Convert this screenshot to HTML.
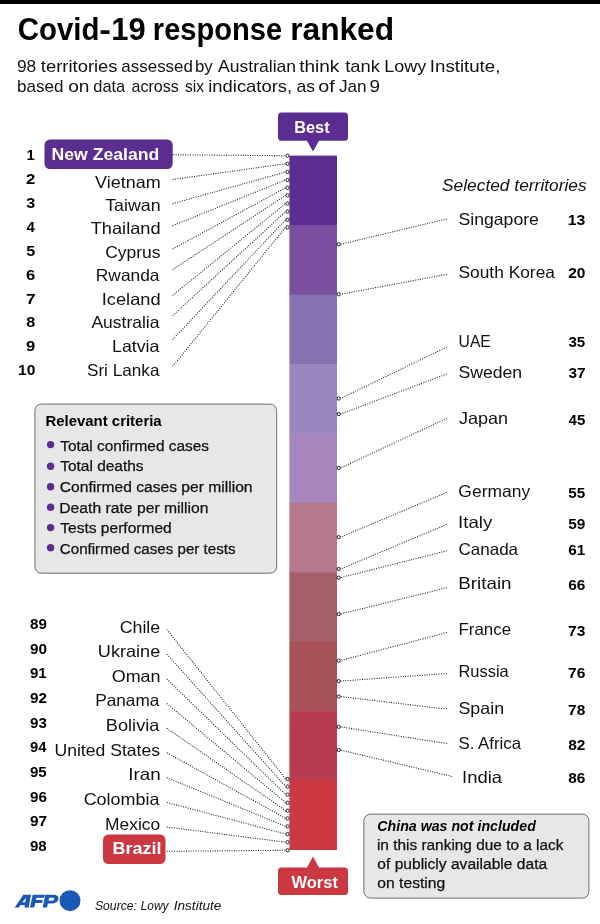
<!DOCTYPE html>
<html><head><meta charset="utf-8"><title>Covid-19 response ranked</title>
<style>
html,body{margin:0;padding:0;background:#fff;}
svg{display:block;font-family:"Liberation Sans", sans-serif;fill:#111;will-change:transform;}
.d{stroke:#1a1a1a;stroke-width:1.05;stroke-dasharray:1 1.4;fill:none;}
.c{fill:#fff;stroke:#1a1a1a;stroke-width:1;}
</style></head><body>
<svg width="600" height="924" viewBox="0 0 600 924">
<rect width="600" height="924" fill="#fff"/>
<rect x="0" y="0" width="600" height="4" fill="#000"/>
<text x="17.77" y="40.4" font-size="31.5" textLength="81.70" lengthAdjust="spacingAndGlyphs" font-weight="bold" fill="#000">Covid</text>
<text x="99.34" y="40.4" font-size="31.5" textLength="11.64" lengthAdjust="spacingAndGlyphs" font-weight="bold" fill="#000">-</text>
<text x="111.22" y="40.4" font-size="31.5" textLength="34.39" lengthAdjust="spacingAndGlyphs" font-weight="bold" fill="#000">19</text>
<text x="152.86" y="40.4" font-size="31.5" textLength="129.38" lengthAdjust="spacingAndGlyphs" font-weight="bold" fill="#000">response</text>
<text x="290.19" y="40.4" font-size="31.5" textLength="103.88" lengthAdjust="spacingAndGlyphs" font-weight="bold" fill="#000">ranked</text>
<text x="16.97" y="71.7" font-size="16.6" textLength="19.32" lengthAdjust="spacingAndGlyphs">98</text>
<text x="40.77" y="71.7" font-size="16.6" textLength="76.82" lengthAdjust="spacingAndGlyphs">territories</text>
<text x="121.33" y="71.7" font-size="16.6" textLength="71.62" lengthAdjust="spacingAndGlyphs">assessed</text>
<text x="195.00" y="71.7" font-size="16.6" textLength="17.77" lengthAdjust="spacingAndGlyphs">by</text>
<text x="218.05" y="71.7" font-size="16.6" textLength="78.03" lengthAdjust="spacingAndGlyphs">Australian</text>
<text x="299.16" y="71.7" font-size="16.6" textLength="40.24" lengthAdjust="spacingAndGlyphs">think</text>
<text x="345.27" y="71.7" font-size="16.6" textLength="34.73" lengthAdjust="spacingAndGlyphs">tank</text>
<text x="384.21" y="71.7" font-size="16.6" textLength="42.03" lengthAdjust="spacingAndGlyphs">Lowy</text>
<text x="429.87" y="71.7" font-size="16.6" textLength="70.51" lengthAdjust="spacingAndGlyphs">Institute,</text>
<text x="16.99" y="91.8" font-size="16.6" textLength="46.36" lengthAdjust="spacingAndGlyphs">based</text>
<text x="68.18" y="91.8" font-size="16.6" textLength="21.31" lengthAdjust="spacingAndGlyphs">on</text>
<text x="93.29" y="91.8" font-size="16.6" textLength="31.94" lengthAdjust="spacingAndGlyphs">data</text>
<text x="131.57" y="91.8" font-size="16.6" textLength="47.25" lengthAdjust="spacingAndGlyphs">across</text>
<text x="185.12" y="91.8" font-size="16.6" textLength="18.98" lengthAdjust="spacingAndGlyphs">six</text>
<text x="208.25" y="91.8" font-size="16.6" textLength="83.91" lengthAdjust="spacingAndGlyphs">indicators,</text>
<text x="296.50" y="91.8" font-size="16.6" textLength="18.58" lengthAdjust="spacingAndGlyphs">as</text>
<text x="318.26" y="91.8" font-size="16.6" textLength="16.47" lengthAdjust="spacingAndGlyphs">of</text>
<text x="338.99" y="91.8" font-size="16.6" textLength="27.67" lengthAdjust="spacingAndGlyphs">Jan</text>
<text x="369.40" y="91.8" font-size="16.6" textLength="10.53" lengthAdjust="spacingAndGlyphs">9</text>
<rect x="289.4" y="155.60" width="47.6" height="70.04" fill="#5b2d90"/>
<rect x="289.4" y="225.04" width="47.6" height="70.04" fill="#7a4f9f"/>
<rect x="289.4" y="294.48" width="47.6" height="70.04" fill="#8672b1"/>
<rect x="289.4" y="363.92" width="47.6" height="70.04" fill="#9a85c0"/>
<rect x="289.4" y="433.36" width="47.6" height="70.04" fill="#a886bd"/>
<rect x="289.4" y="502.80" width="47.6" height="70.04" fill="#b5798d"/>
<rect x="289.4" y="572.24" width="47.6" height="70.04" fill="#a65e68"/>
<rect x="289.4" y="641.68" width="47.6" height="70.04" fill="#a85156"/>
<rect x="289.4" y="711.12" width="47.6" height="70.04" fill="#b83b50"/>
<rect x="289.4" y="780.56" width="47.6" height="69.44" fill="#cc3842"/>
<path d="M281.5 112.5h63a3.5 3.5 0 0 1 3.5 3.5v21.3a3.5 3.5 0 0 1-3.5 3.5h-25.5l-6 10.6l-6-10.6h-25.5a3.5 3.5 0 0 1-3.5-3.5v-21.3a3.5 3.5 0 0 1 3.5-3.5z" fill="#5b2d90"/>
<text x="294.19" y="132.5" font-size="16.8" textLength="35.43" lengthAdjust="spacingAndGlyphs" font-weight="bold" fill="#fff">Best</text>
<path d="M281.5 895h63a3.5 3.5 0 0 0 3.5-3.5v-20.5a3.5 3.5 0 0 0-3.5-3.5h-25.5l-6-11l-6 11h-25.5a3.5 3.5 0 0 0-3.5 3.5v20.5a3.5 3.5 0 0 0 3.5 3.5z" fill="#cc3842"/>
<text x="291.45" y="887.5" font-size="16.8" textLength="46.47" lengthAdjust="spacingAndGlyphs" font-weight="bold" fill="#fff">Worst</text>
<rect x="44.5" y="139.6" width="128.2" height="29.5" rx="5.5" fill="#5b2d90"/>
<text x="26.43" y="160.0" font-size="15" textLength="8.21" lengthAdjust="spacingAndGlyphs" font-weight="bold" fill="#000">1</text>
<text x="51.50" y="159.6" font-size="15.8" textLength="107.80" lengthAdjust="spacingAndGlyphs" font-weight="bold" fill="#fff">New Zealand</text>
<line class="d" x1="173.2" y1="154.8" x2="285.6" y2="155.7"/>
<circle class="c" cx="287.5" cy="155.7" r="1.65"/>
<text x="26.11" y="183.9" font-size="15" textLength="9.29" lengthAdjust="spacingAndGlyphs" font-weight="bold" fill="#000">2</text>
<text x="95.01" y="187.5" font-size="16.5" textLength="65.62" lengthAdjust="spacingAndGlyphs">Vietnam</text>
<line class="d" x1="172.6" y1="179.5" x2="285.6" y2="163.8"/>
<circle class="c" cx="287.5" cy="163.8" r="1.65"/>
<text x="26.29" y="207.8" font-size="15" textLength="9.01" lengthAdjust="spacingAndGlyphs" font-weight="bold" fill="#000">3</text>
<text x="105.19" y="210.8" font-size="16.5" textLength="55.38" lengthAdjust="spacingAndGlyphs">Taiwan</text>
<line class="d" x1="172.6" y1="203.7" x2="285.6" y2="172.0"/>
<circle class="c" cx="287.5" cy="172.0" r="1.65"/>
<text x="26.42" y="231.7" font-size="15" textLength="8.38" lengthAdjust="spacingAndGlyphs" font-weight="bold" fill="#000">4</text>
<text x="90.69" y="234.2" font-size="16.5" textLength="69.92" lengthAdjust="spacingAndGlyphs">Thailand</text>
<line class="d" x1="172.6" y1="225.7" x2="285.6" y2="180.0"/>
<circle class="c" cx="287.5" cy="180.0" r="1.65"/>
<text x="26.16" y="255.6" font-size="15" textLength="9.01" lengthAdjust="spacingAndGlyphs" font-weight="bold" fill="#000">5</text>
<text x="105.18" y="257.8" font-size="16.5" textLength="55.39" lengthAdjust="spacingAndGlyphs">Cyprus</text>
<line class="d" x1="172.6" y1="249.0" x2="285.6" y2="187.8"/>
<circle class="c" cx="287.5" cy="187.8" r="1.65"/>
<text x="26.07" y="279.6" font-size="15" textLength="9.24" lengthAdjust="spacingAndGlyphs" font-weight="bold" fill="#000">6</text>
<text x="95.86" y="281.3" font-size="16.5" textLength="63.57" lengthAdjust="spacingAndGlyphs">Rwanda</text>
<line class="d" x1="172.6" y1="269.6" x2="285.6" y2="195.4"/>
<circle class="c" cx="287.5" cy="195.4" r="1.65"/>
<text x="25.92" y="303.5" font-size="15" textLength="9.59" lengthAdjust="spacingAndGlyphs" font-weight="bold" fill="#000">7</text>
<text x="101.81" y="304.7" font-size="16.5" textLength="58.82" lengthAdjust="spacingAndGlyphs">Iceland</text>
<line class="d" x1="172.6" y1="295.4" x2="285.6" y2="203.5"/>
<circle class="c" cx="287.5" cy="203.5" r="1.65"/>
<text x="26.16" y="327.4" font-size="15" textLength="9.06" lengthAdjust="spacingAndGlyphs" font-weight="bold" fill="#000">8</text>
<text x="91.45" y="328.3" font-size="16.5" textLength="67.97" lengthAdjust="spacingAndGlyphs">Australia</text>
<line class="d" x1="172.6" y1="315.7" x2="285.6" y2="211.6"/>
<circle class="c" cx="287.5" cy="211.6" r="1.65"/>
<text x="26.11" y="351.3" font-size="15" textLength="9.24" lengthAdjust="spacingAndGlyphs" font-weight="bold" fill="#000">9</text>
<text x="112.03" y="352.2" font-size="16.5" textLength="47.40" lengthAdjust="spacingAndGlyphs">Latvia</text>
<line class="d" x1="172.6" y1="339.5" x2="285.6" y2="219.8"/>
<circle class="c" cx="287.5" cy="219.8" r="1.65"/>
<text x="18.08" y="375.2" font-size="15" textLength="17.29" lengthAdjust="spacingAndGlyphs" font-weight="bold" fill="#000">10</text>
<text x="86.98" y="375.8" font-size="16.5" textLength="72.47" lengthAdjust="spacingAndGlyphs">Sri Lanka</text>
<line class="d" x1="172.6" y1="366.5" x2="285.6" y2="227.3"/>
<circle class="c" cx="287.5" cy="227.3" r="1.65"/>
<rect x="103" y="834.5" width="62.5" height="29.5" rx="5.5" fill="#cc3842"/>
<text x="29.99" y="628.8" font-size="15" textLength="16.92" lengthAdjust="spacingAndGlyphs" font-weight="bold" fill="#000">89</text>
<text x="119.66" y="632.5" font-size="16.5" textLength="40.57" lengthAdjust="spacingAndGlyphs">Chile</text>
<line class="d" x1="166.8" y1="629.5" x2="285.8" y2="779.0"/>
<circle class="c" cx="287.6" cy="779.0" r="1.65"/>
<text x="29.95" y="653.5" font-size="15" textLength="17.01" lengthAdjust="spacingAndGlyphs" font-weight="bold" fill="#000">90</text>
<text x="97.89" y="657.1" font-size="16.5" textLength="62.34" lengthAdjust="spacingAndGlyphs">Ukraine</text>
<line class="d" x1="166.8" y1="654.1" x2="285.8" y2="786.6"/>
<circle class="c" cx="287.6" cy="786.6" r="1.65"/>
<text x="29.96" y="678.1" font-size="15" textLength="16.80" lengthAdjust="spacingAndGlyphs" font-weight="bold" fill="#000">91</text>
<text x="111.74" y="681.8" font-size="16.5" textLength="48.84" lengthAdjust="spacingAndGlyphs">Oman</text>
<line class="d" x1="166.8" y1="679.0" x2="285.8" y2="794.7"/>
<circle class="c" cx="287.6" cy="794.7" r="1.65"/>
<text x="29.95" y="702.8" font-size="15" textLength="17.01" lengthAdjust="spacingAndGlyphs" font-weight="bold" fill="#000">92</text>
<text x="95.17" y="706.4" font-size="16.5" textLength="64.28" lengthAdjust="spacingAndGlyphs">Panama</text>
<line class="d" x1="166.8" y1="703.5" x2="285.8" y2="802.8"/>
<circle class="c" cx="287.6" cy="802.8" r="1.65"/>
<text x="29.96" y="727.5" font-size="15" textLength="16.92" lengthAdjust="spacingAndGlyphs" font-weight="bold" fill="#000">93</text>
<text x="105.79" y="731.1" font-size="16.5" textLength="53.63" lengthAdjust="spacingAndGlyphs">Bolivia</text>
<line class="d" x1="166.8" y1="728.2" x2="285.8" y2="810.7"/>
<circle class="c" cx="287.6" cy="810.7" r="1.65"/>
<text x="29.97" y="752.1" font-size="15" textLength="16.45" lengthAdjust="spacingAndGlyphs" font-weight="bold" fill="#000">94</text>
<text x="54.43" y="755.7" font-size="16.5" textLength="105.66" lengthAdjust="spacingAndGlyphs">United States</text>
<line class="d" x1="166.8" y1="752.8" x2="285.8" y2="818.4"/>
<circle class="c" cx="287.6" cy="818.4" r="1.65"/>
<text x="29.96" y="776.8" font-size="15" textLength="16.80" lengthAdjust="spacingAndGlyphs" font-weight="bold" fill="#000">95</text>
<text x="128.15" y="780.3" font-size="16.5" textLength="32.49" lengthAdjust="spacingAndGlyphs">Iran</text>
<line class="d" x1="166.8" y1="777.6" x2="285.8" y2="826.4"/>
<circle class="c" cx="287.6" cy="826.4" r="1.65"/>
<text x="29.96" y="801.5" font-size="15" textLength="16.92" lengthAdjust="spacingAndGlyphs" font-weight="bold" fill="#000">96</text>
<text x="83.65" y="805.0" font-size="16.5" textLength="75.78" lengthAdjust="spacingAndGlyphs">Colombia</text>
<line class="d" x1="166.8" y1="802.4" x2="285.8" y2="834.1"/>
<circle class="c" cx="287.6" cy="834.1" r="1.65"/>
<text x="29.95" y="826.2" font-size="15" textLength="17.09" lengthAdjust="spacingAndGlyphs" font-weight="bold" fill="#000">97</text>
<text x="105.06" y="829.6" font-size="16.5" textLength="55.09" lengthAdjust="spacingAndGlyphs">Mexico</text>
<line class="d" x1="166.8" y1="827.0" x2="285.8" y2="842.2"/>
<circle class="c" cx="287.6" cy="842.2" r="1.65"/>
<text x="29.96" y="850.8" font-size="15" textLength="16.84" lengthAdjust="spacingAndGlyphs" font-weight="bold" fill="#000">98</text>
<text x="112.58" y="854.0" font-size="15.8" textLength="48.94" lengthAdjust="spacingAndGlyphs" font-weight="bold" fill="#fff">Brazil</text>
<line class="d" x1="166.8" y1="851.3" x2="285.8" y2="850.3"/>
<circle class="c" cx="287.6" cy="850.3" r="1.65"/>
<text x="441.97" y="191.2" font-size="16.6" textLength="144.72" lengthAdjust="spacingAndGlyphs" font-style="italic">Selected territories</text>
<text x="458.46" y="224.7" font-size="16.5" textLength="80.47" lengthAdjust="spacingAndGlyphs">Singapore</text>
<text x="567.76" y="225.4" font-size="15" textLength="17.64" lengthAdjust="spacingAndGlyphs" font-weight="bold" fill="#000">13</text>
<line class="d" x1="446.8" y1="218.9" x2="340.4" y2="244.3"/>
<circle class="c" cx="338.7" cy="244.3" r="1.65"/>
<text x="458.47" y="277.5" font-size="16.5" textLength="96.48" lengthAdjust="spacingAndGlyphs">South Korea</text>
<text x="568.25" y="278.2" font-size="15" textLength="17.22" lengthAdjust="spacingAndGlyphs" font-weight="bold" fill="#000">20</text>
<line class="d" x1="446.8" y1="274.3" x2="340.4" y2="294.3"/>
<circle class="c" cx="338.7" cy="294.3" r="1.65"/>
<text x="458.57" y="346.5" font-size="16.5" textLength="32.22" lengthAdjust="spacingAndGlyphs">UAE</text>
<text x="568.41" y="347.2" font-size="15" textLength="16.86" lengthAdjust="spacingAndGlyphs" font-weight="bold" fill="#000">35</text>
<line class="d" x1="446.8" y1="347.1" x2="340.4" y2="398.5"/>
<circle class="c" cx="338.7" cy="398.5" r="1.65"/>
<text x="458.46" y="377.5" font-size="16.5" textLength="63.72" lengthAdjust="spacingAndGlyphs">Sweden</text>
<text x="568.40" y="378.2" font-size="15" textLength="17.14" lengthAdjust="spacingAndGlyphs" font-weight="bold" fill="#000">37</text>
<line class="d" x1="446.8" y1="374.0" x2="340.4" y2="414.1"/>
<circle class="c" cx="338.7" cy="414.1" r="1.65"/>
<text x="458.98" y="424.0" font-size="16.5" textLength="49.14" lengthAdjust="spacingAndGlyphs">Japan</text>
<text x="568.52" y="424.7" font-size="15" textLength="16.74" lengthAdjust="spacingAndGlyphs" font-weight="bold" fill="#000">45</text>
<line class="d" x1="446.8" y1="418.4" x2="340.4" y2="468.0"/>
<circle class="c" cx="338.7" cy="468.0" r="1.65"/>
<text x="458.38" y="496.8" font-size="16.5" textLength="71.77" lengthAdjust="spacingAndGlyphs">Germany</text>
<text x="568.29" y="497.5" font-size="15" textLength="16.98" lengthAdjust="spacingAndGlyphs" font-weight="bold" fill="#000">55</text>
<line class="d" x1="446.8" y1="492.4" x2="340.4" y2="537.2"/>
<circle class="c" cx="338.7" cy="537.2" r="1.65"/>
<text x="458.07" y="528.0" font-size="16.5" textLength="34.16" lengthAdjust="spacingAndGlyphs">Italy</text>
<text x="568.29" y="528.7" font-size="15" textLength="17.14" lengthAdjust="spacingAndGlyphs" font-weight="bold" fill="#000">59</text>
<line class="d" x1="446.8" y1="524.4" x2="340.4" y2="569.0"/>
<circle class="c" cx="338.7" cy="569.0" r="1.65"/>
<text x="458.40" y="554.7" font-size="16.5" textLength="59.72" lengthAdjust="spacingAndGlyphs">Canada</text>
<text x="568.21" y="555.4" font-size="15" textLength="17.06" lengthAdjust="spacingAndGlyphs" font-weight="bold" fill="#000">61</text>
<line class="d" x1="446.8" y1="550.8" x2="340.4" y2="577.7"/>
<circle class="c" cx="338.7" cy="577.7" r="1.65"/>
<text x="458.25" y="589.3" font-size="16.5" textLength="53.32" lengthAdjust="spacingAndGlyphs">Britain</text>
<text x="568.21" y="590.0" font-size="15" textLength="17.18" lengthAdjust="spacingAndGlyphs" font-weight="bold" fill="#000">66</text>
<line class="d" x1="446.8" y1="587.7" x2="340.4" y2="614.1"/>
<circle class="c" cx="338.7" cy="614.1" r="1.65"/>
<text x="458.40" y="635.0" font-size="16.5" textLength="52.72" lengthAdjust="spacingAndGlyphs">France</text>
<text x="568.09" y="635.7" font-size="15" textLength="17.30" lengthAdjust="spacingAndGlyphs" font-weight="bold" fill="#000">73</text>
<line class="d" x1="446.8" y1="632.5" x2="340.4" y2="660.6"/>
<circle class="c" cx="338.7" cy="660.6" r="1.65"/>
<text x="458.43" y="676.8" font-size="16.5" textLength="50.30" lengthAdjust="spacingAndGlyphs">Russia</text>
<text x="568.09" y="677.5" font-size="15" textLength="17.30" lengthAdjust="spacingAndGlyphs" font-weight="bold" fill="#000">76</text>
<line class="d" x1="446.8" y1="673.5" x2="340.4" y2="681.1"/>
<circle class="c" cx="338.7" cy="681.1" r="1.65"/>
<text x="458.45" y="713.9" font-size="16.5" textLength="45.62" lengthAdjust="spacingAndGlyphs">Spain</text>
<text x="568.09" y="714.6" font-size="15" textLength="17.22" lengthAdjust="spacingAndGlyphs" font-weight="bold" fill="#000">78</text>
<line class="d" x1="446.8" y1="709.1" x2="340.4" y2="696.5"/>
<circle class="c" cx="338.7" cy="696.5" r="1.65"/>
<text x="458.49" y="748.8" font-size="16.5" textLength="62.53" lengthAdjust="spacingAndGlyphs">S. Africa</text>
<text x="568.29" y="749.5" font-size="15" textLength="17.18" lengthAdjust="spacingAndGlyphs" font-weight="bold" fill="#000">82</text>
<line class="d" x1="446.8" y1="743.5" x2="340.4" y2="726.8"/>
<circle class="c" cx="338.7" cy="726.8" r="1.65"/>
<text x="462.09" y="782.7" font-size="16.5" textLength="40.03" lengthAdjust="spacingAndGlyphs">India</text>
<text x="568.29" y="783.4" font-size="15" textLength="17.10" lengthAdjust="spacingAndGlyphs" font-weight="bold" fill="#000">86</text>
<line class="d" x1="451.8" y1="776.4" x2="340.4" y2="750.0"/>
<circle class="c" cx="338.7" cy="750.0" r="1.65"/>
<rect x="34.9" y="404.1" width="241.8" height="169.1" rx="6.5" fill="#e7e7e7" stroke="#6e6e6e" stroke-width="1"/>
<text x="45.48" y="425.6" font-size="15" textLength="116.19" lengthAdjust="spacingAndGlyphs" font-weight="bold" fill="#000">Relevant criteria</text>
<circle cx="50.6" cy="444.6" r="3.7" fill="#5b2d90"/>
<text x="60.24" y="450.7" font-size="14.7" textLength="148.66" lengthAdjust="spacingAndGlyphs" stroke="#111" stroke-width="0.25">Total confirmed cases</text>
<circle cx="50.6" cy="466.2" r="3.7" fill="#5b2d90"/>
<text x="60.24" y="471.4" font-size="14.7" textLength="83.35" lengthAdjust="spacingAndGlyphs" stroke="#111" stroke-width="0.25">Total deaths</text>
<circle cx="50.6" cy="486.8" r="3.7" fill="#5b2d90"/>
<text x="59.77" y="492.0" font-size="14.7" textLength="192.77" lengthAdjust="spacingAndGlyphs" stroke="#111" stroke-width="0.25">Confirmed cases per million</text>
<circle cx="50.6" cy="507.2" r="3.7" fill="#5b2d90"/>
<text x="59.29" y="512.7" font-size="14.7" textLength="149.27" lengthAdjust="spacingAndGlyphs" stroke="#111" stroke-width="0.25">Death rate per million</text>
<circle cx="50.6" cy="527.6" r="3.7" fill="#5b2d90"/>
<text x="60.24" y="533.3" font-size="14.7" textLength="111.52" lengthAdjust="spacingAndGlyphs" stroke="#111" stroke-width="0.25">Tests performed</text>
<circle cx="50.6" cy="547.8" r="3.7" fill="#5b2d90"/>
<text x="59.79" y="554.0" font-size="14.7" textLength="175.80" lengthAdjust="spacingAndGlyphs" stroke="#111" stroke-width="0.25">Confirmed cases per tests</text>
<rect x="363.9" y="814.1" width="225" height="84" rx="6.5" fill="#e7e7e7" stroke="#6e6e6e" stroke-width="1"/>
<text x="377.28" y="831.0" font-size="14.8" textLength="158.60" lengthAdjust="spacingAndGlyphs" font-weight="bold" font-style="italic" fill="#000">China was not included</text>
<text x="376.95" y="850.0" font-size="14.7" textLength="186.58" lengthAdjust="spacingAndGlyphs" stroke="#111" stroke-width="0.25">in this ranking due to a lack</text>
<text x="377.33" y="869.2" font-size="14.7" textLength="169.81" lengthAdjust="spacingAndGlyphs" stroke="#111" stroke-width="0.25">of publicly available data</text>
<text x="377.32" y="888.4" font-size="14.7" textLength="67.93" lengthAdjust="spacingAndGlyphs" stroke="#111" stroke-width="0.25">on testing</text>
<circle cx="70" cy="900.7" r="10.5" fill="#1a58b5"/>
<g transform="translate(10,886) scale(0.133333)" fill="#1a58b5" fill-rule="evenodd"><path d="M35 162L100 65H158L140 162H108L111 143H79L67 162ZM92 122H114L120 88Z"/><path d="M150 162L170 65H262L257 88H198L194 105H245L241 127H190L182 162Z"/><path d="M245 162L265 65H325C352 65 366 78 363 98C360 120 342 132 316 132H284L278 162ZM289 110H315C325 110 331 106 332 98C333 91 328 88 319 88H294Z"/></g>
<text x="94.91" y="909.8" font-size="13.6" textLength="42.11" lengthAdjust="spacingAndGlyphs" font-style="italic">Source:</text>
<text x="140.69" y="909.8" font-size="13.6" textLength="27.73" lengthAdjust="spacingAndGlyphs" font-style="italic">Lowy</text>
<text x="173.74" y="909.8" font-size="13.6" textLength="47.61" lengthAdjust="spacingAndGlyphs" font-style="italic">Institute</text>
</svg>
</body></html>
